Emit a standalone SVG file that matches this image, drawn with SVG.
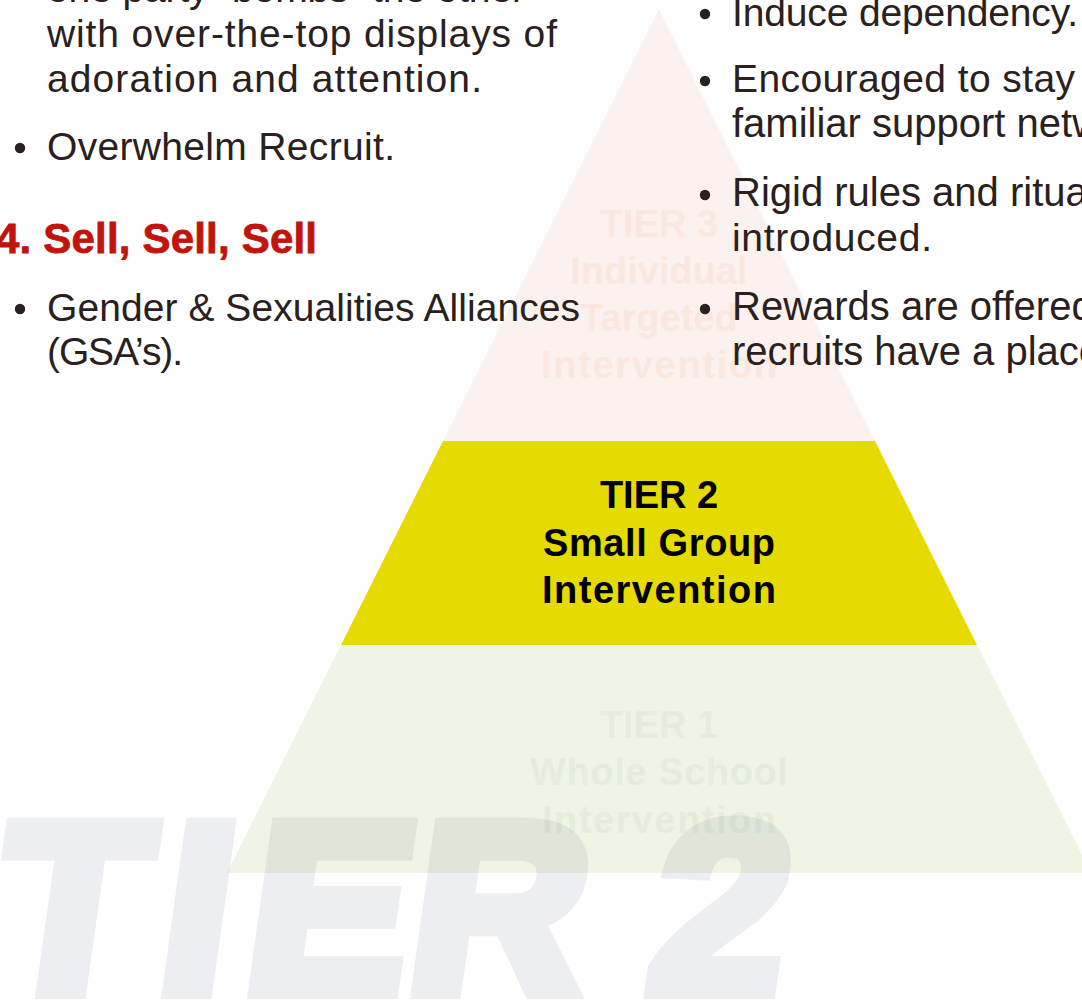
<svg xmlns="http://www.w3.org/2000/svg" width="1082" height="1002" viewBox="0 0 1082 1002">
<style>
.body{font-family:"Liberation Sans",Arial,sans-serif;font-size:39px;fill:#2a201d}
.wide{font-size:40px}
.head{font-family:"Liberation Sans",Arial,sans-serif;font-size:42px;font-weight:bold;fill:#c0140c;stroke:#c0140c;stroke-width:0.8}
.tier{font-family:"Liberation Sans",Arial,sans-serif;font-size:38px;font-weight:bold;text-anchor:middle}
.bul{fill:#2a201d}
</style>
<rect width="1082" height="1002" fill="#ffffff"/>
<g id="tier3">
<polygon points="659,9 443,441 875,441" fill="#fbf1ee"/>
<text class="tier" fill="#fae8de"><tspan x="659" y="237">TIER 3</tspan><tspan x="659" y="284">Individual</tspan><tspan x="659" y="331">Targeted</tspan><tspan x="659" y="378" textLength="236">Intervention</tspan></text>
</g>
<g id="tier2">
<polygon points="443,441 875,441 977,645 341,645" fill="#e6db00"/>
<text class="tier" fill="#000000"><tspan x="659" y="508">TIER 2</tspan><tspan x="659" y="556" textLength="232">Small Group</tspan><tspan x="659" y="603" textLength="234">Intervention</tspan></text>
</g>
<g id="tier1">
<polygon points="341,645 977,645 1091,873 227,873" fill="#eff5e5"/>
<text class="tier" fill="#e6eddd"><tspan x="659" y="738">TIER 1</tspan><tspan x="659" y="785" textLength="258">Whole School</tspan><tspan x="659" y="833" textLength="234">Intervention</tspan></text>
</g>
<g id="watermark" opacity="0.08">
<text transform="translate(0,991) skewX(-8)" x="-12 154 240 403 600 644" y="0" font-family="Liberation Sans, Arial, sans-serif" font-weight="bold" font-size="240" fill="#2d3a55" stroke="#2d3a55" stroke-width="16" stroke-linejoin="miter">TIER 2</text>
</g>
<g id="connectors"/>
<g id="left-text">
<text class="body" x="47" y="2" textLength="478">one party “bombs” the other</text>
<text class="body" x="47" y="47" textLength="510">with over-the-top displays of</text>
<text class="body" x="47" y="92" textLength="435">adoration and attention.</text>
<circle class="bul" cx="20" cy="148" r="5.2"/>
<text class="body" x="47" y="160" textLength="348">Overwhelm Recruit.</text>
<text class="head" x="-4" y="253" textLength="321">4. Sell, Sell, Sell</text>
<circle class="bul" cx="20" cy="309" r="5.2"/>
<text class="body" x="47" y="321" textLength="533">Gender &amp; Sexualities Alliances</text>
<text class="body" x="47" y="365" textLength="136">(GSA’s).</text>
</g>
<g id="right-text">
<circle class="bul" cx="705" cy="14" r="5.2"/>
<text class="body" x="732" y="26" textLength="346">Induce dependency.</text>
<circle class="bul" cx="705" cy="81" r="5.2"/>
<text class="body" x="732" y="92" textLength="343">Encouraged to stay</text>
<text class="body wide" x="732" y="137">familiar support networks.</text>
<circle class="bul" cx="705" cy="195" r="5.2"/>
<text class="body wide" x="732" y="206">Rigid rules and rituals</text>
<text class="body" x="732" y="251" textLength="200">introduced.</text>
<circle class="bul" cx="705" cy="309" r="5.2"/>
<text class="body wide" x="732" y="320">Rewards are offered</text>
<text class="body wide" x="732" y="365">recruits have a place</text>
</g>
</svg>
